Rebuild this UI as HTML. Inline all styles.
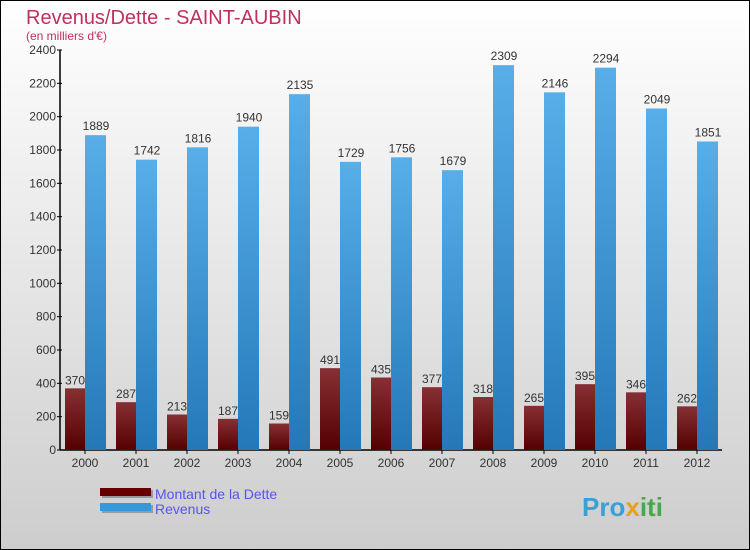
<!DOCTYPE html>
<html><head><meta charset="utf-8"><style>
body{margin:0}
svg{display:block;font-family:"Liberation Sans",sans-serif}
</style></head><body>
<svg id="c" width="750" height="550" xmlns="http://www.w3.org/2000/svg">
<defs>
<linearGradient id="bg" x1="0" y1="0" x2="0" y2="1"><stop offset="0" stop-color="#ffffff"/><stop offset="1" stop-color="#cdcdcd"/></linearGradient>
<linearGradient id="gd" x1="0" y1="0" x2="0" y2="1"><stop offset="0" stop-color="#863034"/><stop offset="1" stop-color="#550000"/></linearGradient>
<linearGradient id="gr" x1="0" y1="0" x2="0" y2="1"><stop offset="0" stop-color="#57aee8"/><stop offset="1" stop-color="#2478b8"/></linearGradient>
</defs>
<rect x="0.5" y="0.5" width="749" height="549" fill="url(#bg)" stroke="#000"/>
<text x="26" y="24" font-size="20" fill="#c0305f">Revenus/Dette - SAINT-AUBIN</text>
<text x="26" y="40" font-size="12" fill="#c0305f">(en milliers d'€)</text>
<g id="axes"></g>
<g id="bars"></g>
<rect x="102" y="490" width="51" height="8" fill="#999"/>
<rect x="100" y="488" width="51" height="8" fill="#660000"/>
<rect x="102" y="505" width="51" height="8" fill="#999"/>
<rect x="100" y="503" width="51" height="8" fill="#3399dd"/>
<text x="155" y="499" font-size="14" fill="#5555ee">Montant de la Dette</text>
<text x="155" y="514" font-size="14" fill="#5555ee">Revenus</text>
<text x="582" y="516" font-size="26" font-weight="bold" fill="#3aa0d8">Pro<tspan fill="#e8a020">x</tspan><tspan fill="#4aa84a">iti</tspan></text>
</svg>
<script>
const years=["2000","2001","2002","2003","2004","2005","2006","2007","2008","2009","2010","2011","2012"];
const dette=[370,287,213,187,159,491,435,377,318,265,395,346,262];
const revenus=[1889,1742,1816,1940,2135,1729,1756,1679,2309,2146,2294,2049,1851];
const ticks=[0,200,400,600,800,1000,1200,1400,1600,1800,2000,2200,2400];
const NS="http://www.w3.org/2000/svg";
const y0=450,y1=50,vmax=2400;
const y=v=>y0-(v/vmax)*(y0-y1);
const cx=i=>85+i*51;
function mk(tag,attrs,parent,txt){const e=document.createElementNS(NS,tag);for(const k in attrs)e.setAttribute(k,attrs[k]);if(txt!==undefined)e.textContent=txt;parent.appendChild(e);return e;}
const ax=document.getElementById('axes'),bg=document.getElementById('bars');
let e=mk('line',{x1:60,y1:y1,x2:60,y2:y0,stroke:'#000','stroke-width':1.5},ax);


e=mk('line',{x1:60,y1:y0,x2:722,y2:y0,stroke:'#000','stroke-width':1.5},ax);


ticks.forEach(t=>{
 mk('line',{x1:57,y1:y(t),x2:62,y2:y(t),stroke:'#000'},ax);
 e=mk('text',{x:56,y:y(t)+4,'font-size':12,'text-anchor':'end',fill:'#333'},ax,String(t));
 
 
});
years.forEach((yr,i)=>{
 const c=cx(i);
 mk('line',{x1:c,y1:y0,x2:c,y2:y0+4,stroke:'#000'},ax);
 e=mk('text',{x:c,y:467,'font-size':12,'text-anchor':'middle',fill:'#333'},ax,yr);
 
 
 e=mk('rect',{x:c-20,y:y(dette[i]),width:20,height:y0-y(dette[i]),fill:'url(#gd)'},bg);
 
 
 e=mk('rect',{x:c,y:y(revenus[i]),width:21,height:y0-y(revenus[i]),fill:'url(#gr)'},bg);
 
 
 e=mk('text',{x:c-10,y:y(dette[i])-4,'font-size':12,'text-anchor':'middle',fill:'#333'},bg,String(dette[i]));
 
 
 e=mk('text',{x:c+11,y:y(revenus[i])-5,'font-size':12,'text-anchor':'middle',fill:'#333'},bg,String(revenus[i]));
 
 
});
</script>
</body></html>
